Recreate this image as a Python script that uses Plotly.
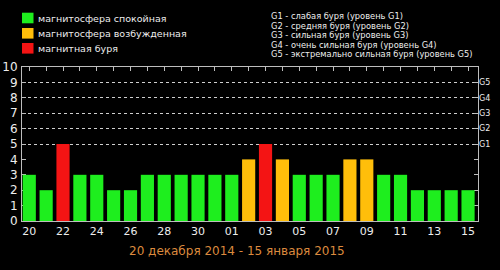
import plotly.graph_objects as go

# ---- data ----
days = ["20", "21", "22", "23", "24", "25", "26", "27", "28", "29", "30", "31",
        "01", "02", "03", "04", "05", "06", "07", "08", "09", "10", "11", "12",
        "13", "14", "15"]
kp = [3, 2, 5, 3, 3, 2, 2, 3, 3, 3, 3, 3,
      3, 4, 5, 4, 3, 3, 3, 4, 4, 3, 3, 2,
      2, 2, 2]
legend_labels = ["магнитосфера спокойная", "магнитосфера возбужденная", "магнитная буря"]
storm_lines = [
    "G1 - слабая буря (уровень G1)",
    "G2 - средняя буря (уровень G2)",
    "G3 - сильная буря (уровень G3)",
    "G4 - очень сильная буря (уровень G4)",
    "G5 - экстремально сильная буря (уровень G5)",
]
g_ticks = [5, 6, 7, 8, 9]
g_labels = ["G1", "G2", "G3", "G4", "G5"]
y_ticks = list(range(0, 11))
x_tick_days = days[::2]
period_title = "20 декабря 2014 - 15 января 2015"

# ---- styles ----
colors = ["#1EEE1E", "#FFBE0A", "#F41414"]
axis_col = "#BDBDBD"
text_col = "#EDEDED"
title_col = "#DC8A3E"
FONT = "DejaVu Sans"

W, H = 500, 270
L, R, T, B = 22, 22, 67, 49
pw, ph = W - L - R, H - T - B


def px_x(px):
    return (px - L) / pw


def px_y(py):
    return (H - B - py) / ph


def level(v):
    return 0 if v <= 3 else (1 if v == 4 else 2)


fig = go.Figure()
for k in range(3):
    xs = [d for d, v in zip(days, kp) if level(v) == k]
    ys = [v for v in kp if level(v) == k]
    fig.add_trace(go.Bar(x=xs, y=ys, marker=dict(color=colors[k], line=dict(width=0)),
                         width=0.78, name=legend_labels[k], showlegend=False))

# invisible trace for top / right axes
fig.add_trace(go.Scatter(x=days, y=kp, xaxis="x2", yaxis="y2", mode="markers",
                         marker=dict(opacity=0), showlegend=False, hoverinfo="skip"))

xr = [-0.43, len(days) - 1 + 0.59]
fig.update_layout(
    width=W, height=H,
    margin=dict(l=L, r=R, t=T, b=B, autoexpand=False),
    paper_bgcolor="black", plot_bgcolor="black",
    barmode="overlay",
    font=dict(family=FONT, color=text_col),
    xaxis=dict(type="category", categoryorder="array", categoryarray=days,
               range=xr, tickvals=x_tick_days, ticktext=x_tick_days,
               ticks="", showgrid=False, zeroline=False,
               showline=True, linecolor=axis_col, linewidth=1,
               tickfont=dict(size=11, color=text_col), automargin=False),
    xaxis2=dict(type="category", categoryorder="array", categoryarray=days,
                overlaying="x", side="top", range=xr, anchor="y",
                tickvals=days, ticks="inside", ticklen=4, tickcolor=axis_col,
                showticklabels=False, showgrid=False, zeroline=False,
                showline=True, linecolor=axis_col, linewidth=1, automargin=False),
    yaxis=dict(range=[0, 10], tickvals=y_ticks, ticktext=[str(v) for v in y_ticks],
               ticks="inside", ticklen=4, tickcolor=axis_col,
               showgrid=False, zeroline=False, mirror="ticks",
               showline=True, linecolor=axis_col, linewidth=1,
               tickfont=dict(size=12, color=text_col), ticklabelstandoff=1,
               layer="below traces", automargin=False),
    yaxis2=dict(range=[0, 10], overlaying="y", side="right", anchor="x",
                tickvals=g_ticks, ticktext=g_labels, ticks="",
                showgrid=True, gridcolor="#CFCFCF", griddash="dot", gridwidth=1,
                zeroline=False, showline=False, automargin=False,
                tickfont=dict(size=8, color=text_col)),
)

# legend squares + labels
row_y = [18, 33.3, 48.3]
for k in range(3):
    fig.add_shape(type="rect", xref="paper", yref="paper",
                  x0=px_x(22), x1=px_x(33.5),
                  y0=px_y(row_y[k] + 5.3), y1=px_y(row_y[k] - 5.3),
                  fillcolor=colors[k], line=dict(width=0))
    fig.add_annotation(xref="paper", yref="paper", x=px_x(36), y=px_y(row_y[k]),
                       xanchor="left", yanchor="middle", showarrow=False,
                       text=legend_labels[k], font=dict(size=9.5, color=text_col))

# storm level descriptions
for i, line in enumerate(storm_lines):
    fig.add_annotation(xref="paper", yref="paper", x=px_x(269), y=px_y(16 + 9.5 * i),
                       xanchor="left", yanchor="middle", showarrow=False,
                       text=line, font=dict(size=8.3, color=text_col))

# period title
fig.add_annotation(xref="paper", yref="paper", x=px_x(236.5), y=px_y(251),
                   xanchor="center", yanchor="middle", showarrow=False,
                   text=period_title, font=dict(size=12, color=title_col))

fig.write_html("out.html", config={"displayModeBar": False},
               post_script="document.body.style.margin='0';document.body.style.background='black';")
